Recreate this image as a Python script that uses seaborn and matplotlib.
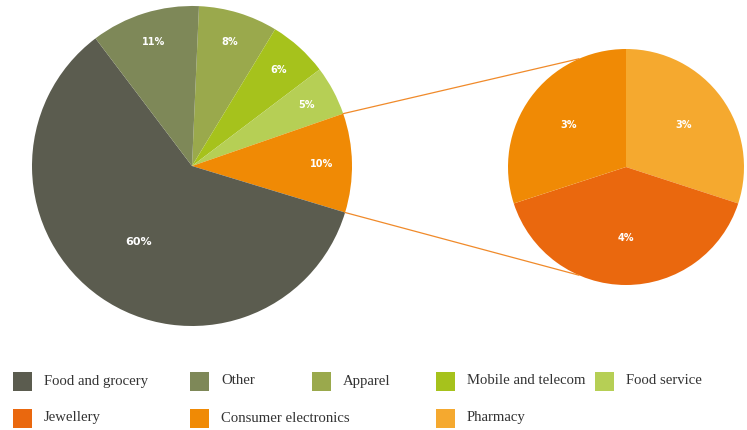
import matplotlib
matplotlib.use("Agg")
import matplotlib.pyplot as plt
from matplotlib.patches import ConnectionPatch, Rectangle
import numpy as np
import seaborn as sns

sns.set_theme(style="white")
plt.rcParams["font.family"] = ["DejaVu Sans"]

# Retail spending shares (%)
main_labels = ["Apparel", "Mobile and telecom", "Food service", "Retail goods",
               "Food and grocery", "Other"]
main_values = [8, 6, 5, 10, 60, 11]

sub_labels = ["Pharmacy", "Jewellery", "Consumer electronics"]
sub_values = [3, 4, 3]

legend_rows = [
    ["Food and grocery", "Other", "Apparel", "Mobile and telecom", "Food service"],
    ["Jewellery", "Consumer electronics", None, "Pharmacy", None],
]

colors = {
    "Food and grocery": "#5b5c4f",
    "Other": "#7e8858",
    "Apparel": "#9aa94c",
    "Mobile and telecom": "#a6c21c",
    "Food service": "#b6cf55",
    "Retail goods": "#f08a05",
    "Jewellery": "#ea680e",
    "Consumer electronics": "#f08a05",
    "Pharmacy": "#f5a92f",
}
palette = sns.color_palette([colors[k] for k in colors])

W, H = 747, 430
fig = plt.figure(figsize=(W / 100, H / 100), dpi=100)


def px_axes(cx, cy, r):
    return fig.add_axes([(cx - r) / W, (H - cy - r) / H, 2 * r / W, 2 * r / H])


ax1 = px_axes(192, 166, 160)
ax2 = px_axes(626, 167, 118)

wedges1, _, pct1 = ax1.pie(
    main_values,
    colors=[colors[k] for k in main_labels],
    startangle=87.5,
    counterclock=False,
    autopct=lambda p: f"{p:.0f}%",
    pctdistance=0.81,
    wedgeprops=dict(linewidth=0),
    textprops=dict(color="white", fontsize=7, fontweight="bold"),
)
# Move the large slice label toward the centre
big = main_labels.index("Food and grocery")
w = wedges1[big]
mid = np.deg2rad((w.theta1 + w.theta2) / 2)
pct1[big].set_position((0.58 * np.cos(mid), 0.58 * np.sin(mid)))
pct1[big].set_fontsize(8)

wedges2, _ = ax2.pie(
    sub_values,
    colors=[colors[k] for k in sub_labels],
    startangle=90,
    counterclock=False,
    wedgeprops=dict(linewidth=0),
)
for wdg, v in zip(wedges2, sub_values):
    m = np.deg2rad((wdg.theta1 + wdg.theta2) / 2)
    ax2.text(0.6 * np.cos(m), 0.6 * np.sin(m), f"{v}%", ha="center", va="center",
             color="white", fontsize=7, fontweight="bold")

for ax in (ax1, ax2):
    ax.set_xlim(-1, 1)
    ax.set_ylim(-1, 1)
    ax.set_aspect("equal")
    ax.axis("off")

# Connector lines from the retail goods slice to the breakdown pie
rg = wedges1[main_labels.index("Retail goods")]
for a_main, a_sub in ((rg.theta2, 113.5), (rg.theta1, -113.5)):
    pa = (np.cos(np.deg2rad(a_main)), np.sin(np.deg2rad(a_main)))
    pb = (np.cos(np.deg2rad(a_sub)), np.sin(np.deg2rad(a_sub)))
    con = ConnectionPatch(xyA=pa, coordsA=ax1.transData, xyB=pb, coordsB=ax2.transData,
                          color="#f08a2a", linewidth=0.9)
    fig.add_artist(con)

# Legend
col_x = [13, 190, 312, 436, 595]
row_y = [381, 418]
sq = 19
for row, y in zip(legend_rows, row_y):
    for name, x in zip(row, col_x):
        if name is None:
            continue
        fig.add_artist(Rectangle(((x) / W, (H - y - sq / 2) / H), sq / W, sq / H,
                                 transform=fig.transFigure, color=colors[name], lw=0))
        fig.text((x + 31) / W, (H - y) / H, name, ha="left", va="center",
                 fontsize=10.6, color="#333333", family=["Liberation Serif"])

fig.savefig("out.png", dpi=100)
